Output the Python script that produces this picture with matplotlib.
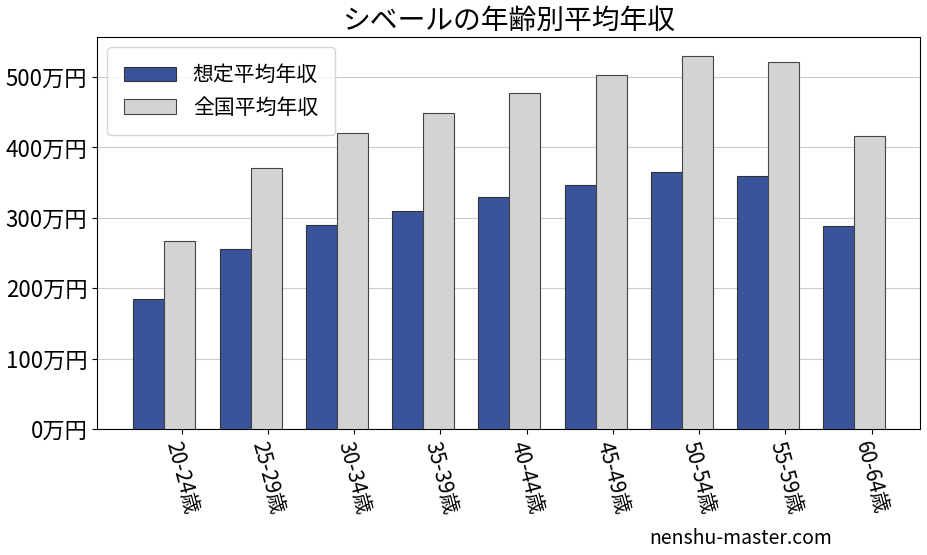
import matplotlib
matplotlib.use("Agg")
import matplotlib.pyplot as plt
import numpy as np

plt.rcParams['font.family'] = 'Noto Sans CJK JP'

categories = ["20-24歳","25-29歳","30-34歳","35-39歳","40-44歳","45-49歳","50-54歳","55-59歳","60-64歳"]
assumed = [185, 256, 290, 310, 330, 347, 365, 359, 288]
national = [267, 371, 420, 449, 477, 503, 530, 521, 416]
yticks = [0, 100, 200, 300, 400, 500]
ytick_labels = [f"{v}万円" for v in yticks]

fig = plt.figure(figsize=(9.27, 5.55), dpi=100)
ax = fig.add_axes([97/927, 1-429/555, 823/927, 392/555])
x = np.arange(len(categories))
w = 0.36
ax.bar(x - w/2, assumed, w, color='#3a539b', edgecolor='#333333', linewidth=0.8, label='想定平均年収', zorder=3)
ax.bar(x + w/2, national, w, color='#d3d3d3', edgecolor='#444444', linewidth=0.8, label='全国平均年収', zorder=3)
ax.set_xlim(-0.78, 8.76)
ax.set_ylim(0, 557)
ax.set_yticks(yticks)
ax.set_yticklabels(ytick_labels, fontsize=16)
ax.set_xticks(x + 0.2)
ax.set_xticklabels(categories, rotation=-75, fontsize=15, ha='center', va='top')
ax.yaxis.grid(True, color='#cccccc', linewidth=0.8, zorder=0)
ax.set_title('シベールの年齢別平均年収', fontsize=20)
ax.legend(loc='upper left', fontsize=15, borderpad=0.8, handlelength=2.5)
fig.text(0.7, 0.02, 'nenshu-master.com', fontsize=14)
fig.savefig('out.png', dpi=100)
